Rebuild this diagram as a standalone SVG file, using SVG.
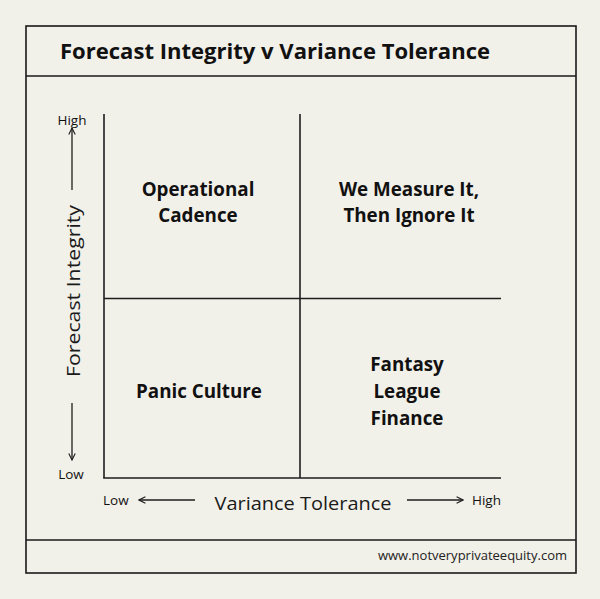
<svg xmlns="http://www.w3.org/2000/svg" width="600" height="599" viewBox="0 0 600 599">
<style>
.ln{stroke:#1e1e1e;stroke-width:1.6;fill:none}
.fr{stroke:#1a1a1a;stroke-width:1.6;fill:none}
.q{font-family:"Open Sans","Noto Sans",sans-serif;font-weight:700;font-size:18.8px;fill:#111;text-anchor:middle}
.ax{font-family:"Open Sans","Noto Sans",sans-serif;font-size:13.5px;fill:#111}
.at{font-family:"Open Sans","Noto Sans",sans-serif;font-size:19px;fill:#1a1a1a;text-anchor:middle}
.ar{stroke:#1e1e1e;stroke-width:1.3;fill:none}
</style>
<defs>
<marker id="ah" viewBox="0 0 10 10" refX="9" refY="5" markerWidth="8" markerHeight="8" markerUnits="userSpaceOnUse" orient="auto">
<path d="M1,1 L9,5 L1,9" fill="none" stroke="#1e1e1e" stroke-width="1.4"/>
</marker>
</defs>
<rect width="600" height="599" fill="#f1f0e9"/>
<g id="frame">
<rect class="fr" x="26" y="26" width="550" height="547"/>
<line class="fr" x1="26" y1="76" x2="576" y2="76"/>
<line class="fr" x1="26" y1="540" x2="576" y2="540"/>
</g>
<g id="title">
<text x="60" y="59" font-family="'Open Sans','Noto Sans',sans-serif" font-weight="700" font-size="22" fill="#111" textLength="430" lengthAdjust="spacingAndGlyphs">Forecast Integrity v Variance Tolerance</text>
</g>
<g id="connectors">
<line class="ln" x1="104" y1="114" x2="104" y2="478"/>
<line class="ln" x1="103.2" y1="478" x2="501" y2="478"/>
<line class="ln" x1="300" y1="114" x2="300" y2="478"/>
<line class="ln" x1="104" y1="298.5" x2="501" y2="298.5"/>
<line class="ar" x1="72" y1="190" x2="72" y2="128" marker-end="url(#ah)"/>
<line class="ar" x1="72" y1="403" x2="72" y2="460" marker-end="url(#ah)"/>
<line class="ar" x1="195" y1="500" x2="139" y2="500" marker-end="url(#ah)"/>
<line class="ar" x1="407" y1="500" x2="463" y2="500" marker-end="url(#ah)"/>
</g>
<g id="y-axis">
<text class="ax" x="72" y="125" text-anchor="middle">High</text>
<text class="at" transform="translate(80,291) rotate(-90)" textLength="172" lengthAdjust="spacingAndGlyphs">Forecast Integrity</text>
<text class="ax" x="71" y="479" text-anchor="middle">Low</text>
</g>
<g id="x-axis">
<text class="ax" x="103" y="505">Low</text>
<text class="at" x="303" y="510" textLength="177" lengthAdjust="spacingAndGlyphs">Variance Tolerance</text>
<text class="ax" x="472" y="505">High</text>
</g>
<g id="q-operational">
<text class="q" x="198" y="196">Operational</text>
<text class="q" x="198" y="222">Cadence</text>
</g>
<g id="q-measure">
<text class="q" x="409" y="196">We Measure It,</text>
<text class="q" x="409" y="222">Then Ignore It</text>
</g>
<g id="q-panic">
<text class="q" x="199" y="398">Panic Culture</text>
</g>
<g id="q-fantasy">
<text class="q" x="407" y="371">Fantasy</text>
<text class="q" x="407" y="398">League</text>
<text class="q" x="407" y="425">Finance</text>
</g>
<g id="footer">
<text x="567" y="560" font-family="'Open Sans','Noto Sans',sans-serif" font-size="13" fill="#222" text-anchor="end">www.notveryprivateequity.com</text>
</g>
</svg>
